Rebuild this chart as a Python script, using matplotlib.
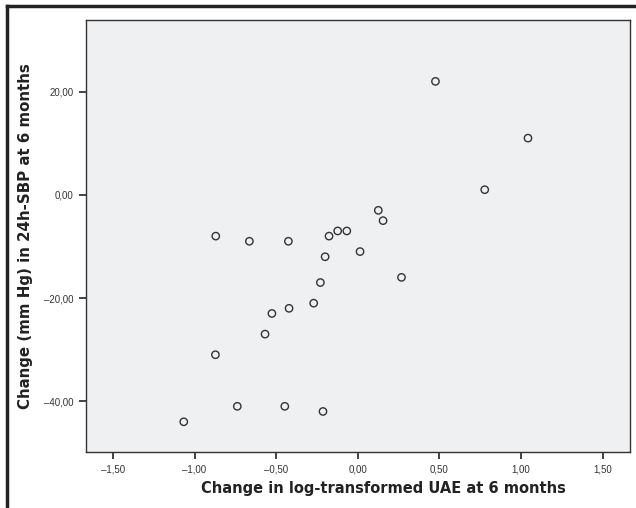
import matplotlib
matplotlib.use("Agg")
import matplotlib.pyplot as plt
from matplotlib.lines import Line2D

# Data
uae_change = [-0.870, -0.664, -0.425, -0.176, -0.200, -0.229, -0.270, -0.421,
              -0.526, -0.568, -0.872, -0.738, -0.447, -0.213, -1.066,
              0.476, 1.043, 0.778, 0.126, 0.155, -0.123, -0.067, 0.014, 0.268]
sbp_change = [-8, -9, -9, -8, -12, -17, -21, -22,
              -23, -27, -31, -41, -41, -42, -44,
              22, 11, 1, -3, -5, -7, -7, -11, -16]

x_ticks = [-1.5, -1.0, -0.5, 0.0, 0.5, 1.0, 1.5]
x_tick_labels = ["\u20131,50", "\u20131,00", "\u20130,50", "0,00", "0,50", "1,00", "1,50"]
y_ticks = [-40, -20, 0, 20]
y_tick_labels = ["\u201340,00", "\u201320,00", "0,00", "20,00"]

x_label = "Change in log-transformed UAE at 6 months"
y_label = "Change (mm Hg) in 24h-SBP at 6 months"

W, H = 636, 508
fig = plt.figure(figsize=(W / 100, H / 100), dpi=100)
fig.patch.set_facecolor("white")

left, right, bottom, top = 86 / W, 630 / W, (H - 451.7) / H, (H - 19.5) / H
ax = fig.add_axes([left, bottom, right - left, top - bottom])
ax.set_facecolor("#EFF0F2")

ax.scatter(uae_change, sbp_change, s=28, facecolors="none",
           edgecolors="#333333", linewidths=1.0, zorder=3)

ax.set_xlim(-1.665, 1.668)
ax.set_ylim(-49.8, 34.0)

ax.set_xticks(x_ticks)
ax.set_xticklabels(x_tick_labels, fontsize=7, color="#333333", family="Liberation Sans")
ax.set_yticks(y_ticks)
ax.set_yticklabels(y_tick_labels, fontsize=7, color="#333333", family="Liberation Sans")
ax.tick_params(axis="both", direction="out", length=5, width=1.2, color="#222222", pad=4)

for sp in ax.spines.values():
    sp.set_color("#333333")
    sp.set_linewidth(1.0)

fig.text(383 / W, 1 - 488 / H, x_label, ha="center", va="center",
         fontsize=10.5, fontweight="bold", color="#222222")
fig.text(26 / W, 1 - 236 / H, y_label, ha="center", va="center", rotation=90,
         fontsize=10.8, fontweight="bold", color="#222222")

# outer frame (top and left edges)
fig.add_artist(Line2D([7 / W, 1.0], [1 - 5.5 / H, 1 - 5.5 / H], transform=fig.transFigure,
                      color="#222222", linewidth=2.5))
fig.add_artist(Line2D([7 / W, 7 / W], [0.0, 1 - 5.5 / H], transform=fig.transFigure,
                      color="#222222", linewidth=2.5))

fig.savefig("out.png", dpi=100)
